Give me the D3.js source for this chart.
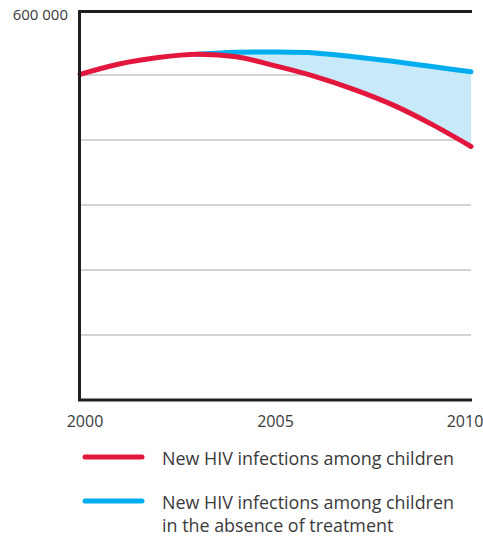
<!DOCTYPE html>
<html>
<head>
<meta charset="utf-8">
<script src="https://cdn.jsdelivr.net/npm/d3@7"></script>
<style>
  body { margin: 0; background: #fff; }
  text { font-family: "Open Sans", Lato, sans-serif; fill: #3a3a3a; }
</style>
</head>
<body>
<div id="chart"></div>
<script>
// values
const years = [2000, 2001, 2002, 2003, 2004, 2005, 2006, 2007, 2008, 2009, 2010]
const withTreatment = [501000, 517000, 527000, 532000, 528000, 514000, 498000, 478000, 454000, 424000, 390000]
const noTreatYears = [2003, 2004, 2005, 2006, 2007, 2008, 2009, 2010]
const noTreatment = [532000, 535000, 535500, 534000, 528000, 521000, 513000, 505000]
const xTicks = [2000, 2005, 2010]
const yTicks = [0, 100000, 200000, 300000, 400000, 500000, 600000]
const legendLabels = [
  ["New HIV infections among children"],
  ["New HIV infections among children", "in the absence of treatment"]
]

const RED = "#e3173e", BLUE = "#00aeef", FILL = "#c7e9f8"

const width = 483, height = 536
const margin = { top: 10, left: 80, right: 12, bottom: 136 }

const svg = d3.select("#chart").append("svg")
  .attr("width", width)
  .attr("height", height)

const x = d3.scaleLinear().domain([2000, 2010]).range([margin.left, width - margin.right])
const y = d3.scaleLinear().domain([0, 600000]).range([height - margin.bottom, margin.top])

// gridlines
svg.append("g")
  .selectAll("line")
  .data(yTicks.slice(1, -1))
  .enter()
  .append("line")
    .attr("x1", x(2000)).attr("x2", x(2010))
    .attr("y1", d => y(d)).attr("y2", d => y(d))
    .style("stroke", "#a8a8a8")
    .style("stroke-width", 1)

const curve = d3.curveCatmullRom.alpha(0.5)

// shaded gap between the two series
const gap = noTreatYears.map((yr, i) => ({ year: yr, hi: noTreatment[i], lo: withTreatment[years.indexOf(yr)] }))
svg.append("path")
  .datum(gap)
  .attr("d", d3.area()
    .x(d => x(d.year))
    .y0(d => y(d.lo))
    .y1(d => y(d.hi))
    .curve(curve))
  .style("fill", FILL)

const line = d3.line()
  .x(d => x(d[0]))
  .y(d => y(d[1]))
  .curve(curve)

svg.append("path")
  .datum(noTreatYears.map((yr, i) => [yr, noTreatment[i]]))
  .attr("d", line)
  .style("fill", "none")
  .style("stroke", BLUE)
  .style("stroke-width", 5)
  .style("stroke-linecap", "round")

svg.append("path")
  .datum(years.map((yr, i) => [yr, withTreatment[i]]))
  .attr("d", line)
  .style("fill", "none")
  .style("stroke", RED)
  .style("stroke-width", 5)
  .style("stroke-linecap", "round")

// frame: left, top and bottom
const frame = svg.append("g").style("stroke", "#231f20").style("stroke-width", 3).style("fill", "none")
frame.append("path")
  .attr("d", `M${x(2010) + 1},${y(600000) + 1.5} H${x(2000) - 0.5} V${y(0)} H${x(2010) + 1}`)

// y label (only the top one)
svg.append("text")
  .attr("x", 68)
  .attr("y", 19.5)
  .attr("text-anchor", "end")
  .style("font-size", "15px")
  .text("600 000")

// x labels
svg.append("g")
  .selectAll("text")
  .data(xTicks)
  .enter()
  .append("text")
    .attr("x", (d, i) => x(d) + [5, 0, -6][i])
    .attr("y", 427)
    .attr("text-anchor", "middle")
    .style("font-size", "16px")
    .text(d => d)

// legend
const legend = svg.append("g")
  .selectAll("g")
  .data(legendLabels)
  .enter()
  .append("g")
    .attr("transform", (d, i) => `translate(0,${457 + i * 44})`)

legend.append("line")
  .attr("x1", 85).attr("x2", 142)
  .style("stroke", (d, i) => [RED, BLUE][i])
  .style("stroke-width", 5)
  .style("stroke-linecap", "round")

legend.append("text")
  .attr("x", 162)
  .attr("y", 8)
  .style("font-size", "17.9px")
  .selectAll("tspan")
  .data(d => d)
  .enter()
  .append("tspan")
    .attr("x", 162)
    .attr("dy", (d, i) => i ? 23 : 0)
    .text(d => d)
</script>
</body>
</html>
